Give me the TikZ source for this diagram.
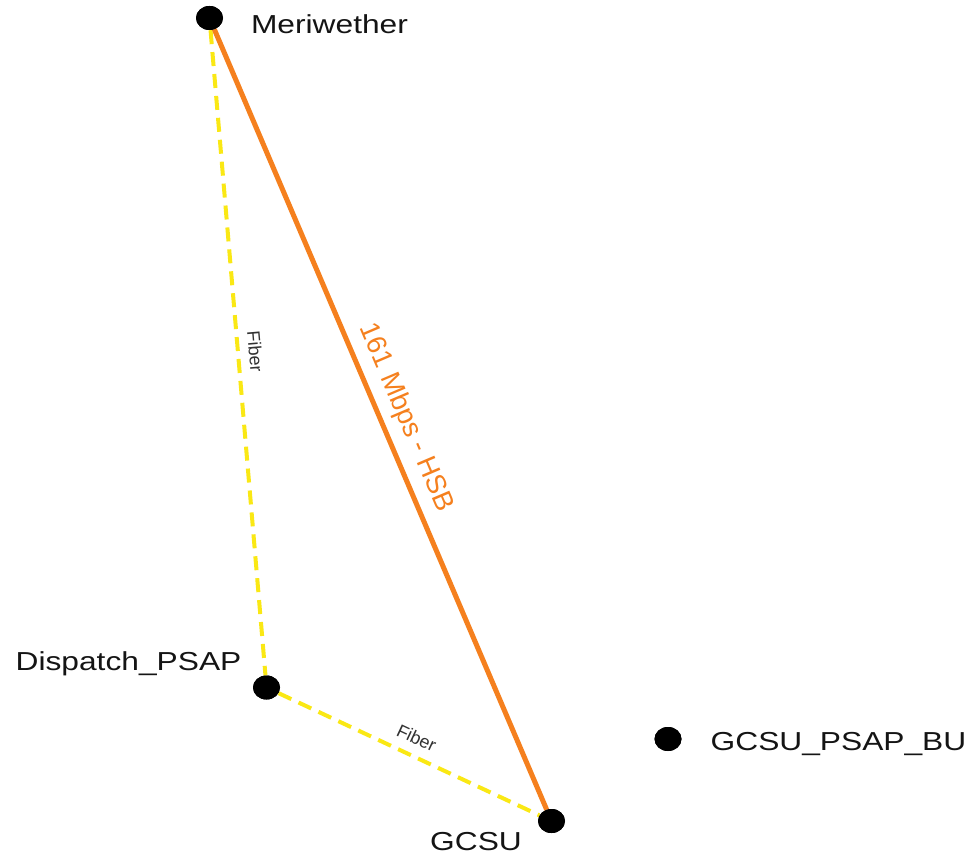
\documentclass[tikz,border=0pt]{standalone}
\usepackage{fontspec}
\setmainfont{Liberation Sans}
\newfontfamily\sitefont[FakeStretch=1.22]{Liberation Sans}
\usetikzlibrary{shapes.geometric}
\definecolor{linkorange}{RGB}{245,128,30}
\definecolor{fiberyellow}{RGB}{250,232,20}
\definecolor{inkblack}{RGB}{20,20,20}
\definecolor{labelgray}{RGB}{50,50,50}
\begin{document}
\begin{tikzpicture}[x=1pt,y=-1pt,
  site/.style={ellipse, fill=black, inner sep=0pt, minimum width=27pt, minimum height=24pt},
  sitename/.style={font=\sitefont\fontsize{26}{26}\selectfont, text=inkblack, inner sep=0pt, anchor=base},
  fiber/.style={draw=fiberyellow, line width=4pt, dash pattern=on 14pt off 8pt},
  hsb/.style={draw=linkorange, line width=5pt},
  linklabel/.style={sloped, anchor=base, inner sep=0pt},
  fiberlabel/.style={linklabel, text=labelgray, font=\fontsize{18}{18}\selectfont},
  hsblabel/.style={linklabel, text=linkorange, font=\fontsize{27.5}{27.5}\selectfont},
]
\fill[white] (0,0) rectangle (977,858);
\useasboundingbox (0,0) rectangle (977,858);

% sites
\node[site] (mer)  at (209.5,18)  {};
\node[site] (disp) at (266.5,687.5) {};
\node[site] (gcsu) at (551.5,821) {};
\node[site] (bu)   at (668,739)   {};

% site names
\node[sitename] (merL)  at (329.5,33.5)  {Meriwether};
\node[sitename] (dispL) at (128.5,670.5) {Dispatch\_PSAP};
\node[sitename] (gcsuL) at (476,850)   {GCSU};
\node[sitename] (buL)   at (838.5,750) {GCSU\_PSAP\_BU};

% links
\path[fiber] (mer) -- node[fiberlabel, pos=0.5, yshift=11pt] (fibA) {Fiber} (disp);
\path[fiber] (disp) -- node[fiberlabel, pos=0.5, yshift=11.5pt] (fibB) {Fiber} (gcsu);
\path[hsb] (mer) -- node[hsblabel, pos=0.51, yshift=17pt] (hsbL) {161 Mbps - HSB} (gcsu);

% keep dots above the link ends
\foreach \s in {mer,disp,gcsu,bu} \fill[black] (\s.center) ellipse [x radius=13.5pt, y radius=12pt];
\end{tikzpicture}
\end{document}
